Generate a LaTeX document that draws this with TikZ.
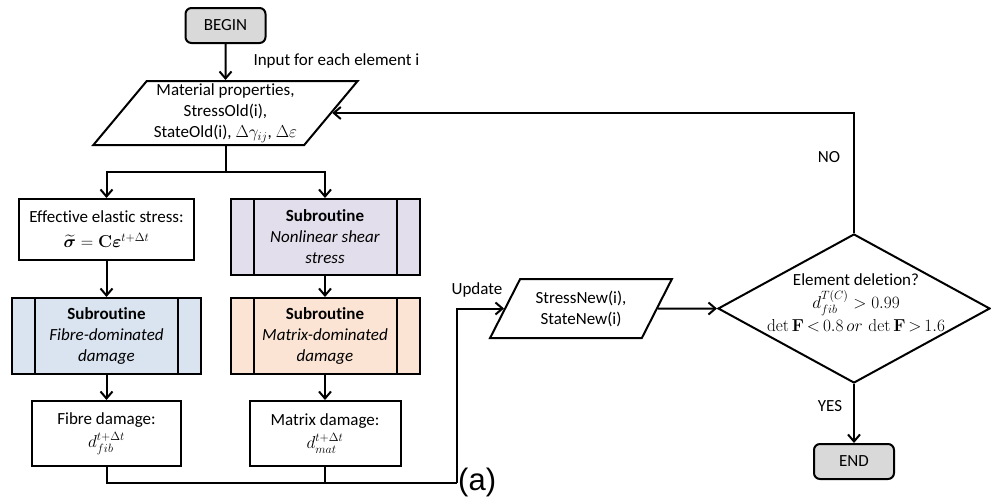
\documentclass[tikz,border=0pt]{standalone}
\usepackage{amsmath}
\usepackage{bm}
\usepackage[no-math]{fontspec}
\setmainfont{Carlito}[Ligatures=NoCommon]
\newfontfamily\labfont{Liberation Sans}
\usetikzlibrary{shapes.geometric,arrows.meta}
\definecolor{grayfill}{HTML}{D9D9D9}
\definecolor{bluefill}{HTML}{DAE3F0}
\definecolor{purplefill}{HTML}{E2DEEC}
\definecolor{peachfill}{HTML}{FBE4D4}
\tikzset{
  every node/.style={font=\fontsize{17}{21}\selectfont, text=black},
  ln/.style={line width=2pt, draw=black},
  arr/.style={ln, -{Straight Barb[length=7pt,width=12pt,line width=2pt]}},
  term/.style={ln, fill=grayfill, rounded corners=6pt, minimum width=80pt, minimum height=35pt, inner sep=0pt},
  proc/.style={ln, fill=white, rectangle, inner sep=0pt, align=center},
  subr/.style={ln, rectangle, inner sep=0pt, align=center, minimum width=189pt, minimum height=76pt,
    path picture={\draw[line width=2pt]
      ([xshift=23pt]path picture bounding box.north west) -- ([xshift=23pt]path picture bounding box.south west)
      ([xshift=-23pt]path picture bounding box.north east) -- ([xshift=-23pt]path picture bounding box.south east);}},
  io/.style={ln, fill=white, trapezium, trapezium stretches=true, inner sep=0pt, align=center},
}
\begin{document}
\begin{tikzpicture}[x=1pt,y=-1pt]
\useasboundingbox (0,0) rectangle (991,498);
% nodes
\node[term] (begin) at (225.5,25.5) {BEGIN};
\node[anchor=west] (inlab) at (250,61) {Input for each element i};
\node[io, trapezium left angle=50.4, trapezium right angle=129.6, minimum width=265pt, minimum height=64pt] (in) at (225.5,113)
  {Material properties,\\StressOld(i),\\StateOld(i), $\Delta\gamma_{ij}$, $\Delta\varepsilon$};
\node[proc, minimum width=175pt, minimum height=61pt] (eff) at (106.5,229.5)
  {Effective elastic stress:\\[4pt]$\widetilde{\bm{\sigma}} = \mathbf{C}\bm{\varepsilon}^{t+\Delta t}$};
\node[subr, fill=purplefill] (nl) at (325,237) {\textbf{Subroutine}\\\textit{Nonlinear shear}\\\textit{stress}};
\node[subr, fill=bluefill] (fsub) at (106.5,336) {\textbf{Subroutine}\\\textit{Fibre-dominated}\\\textit{damage}};
\node[subr, fill=peachfill] (msub) at (325,336) {\textbf{Subroutine}\\\textit{Matrix-dominated}\\\textit{damage}};
\node[proc, minimum width=149pt, minimum height=65pt] (fdam) at (106.5,433.5) {Fibre damage:\\[2pt]$d_{fib}^{t+\Delta t}$};
\node[proc, minimum width=151pt, minimum height=65pt] (mdam) at (325,433.5) {Matrix damage:\\[2pt]$d_{mat}^{t+\Delta t}$};
\node (upd) at (477,290) {Update};
\node[io, trapezium left angle=57.9, trapezium right angle=122.1, minimum width=182pt, minimum height=59pt] (sn) at (581,308.5)
  {StressNew(i),\\StateNew(i)};
\node[ln, diamond, minimum width=272pt, minimum height=149pt, inner sep=0pt] (dec) at (854,308.5) {};
\node[align=center] (dectext) at (856,302.5)
  {Element deletion?\\[2pt]$d^{T(C)}_{fib} > 0.99$\\[2pt]$\thickmuskip=3mu\det\mathbf{F} < 0.8\;or\;\det\mathbf{F} > 1.6$};
\node (no) at (829,157) {NO};
\node (yes) at (830,406) {YES};
\node[term] (end) at (854,461.5) {END};
\node[font=\labfont\fontsize{31}{31}\selectfont, anchor=base west, inner sep=0pt] (alab) at (458,490.6) {(a)};
% coordinates
\coordinate (split) at (225.5,172);
\coordinate (bl) at (457,483);
% connectors
\draw[arr] (begin) -- (in);
\draw[ln] (in) -- (split);
\draw[arr] (split) -| (eff);
\draw[arr] (split) -| (nl);
\draw[arr] (eff) -- (fsub);
\draw[arr] (nl) -- (msub);
\draw[arr] (fsub) -- (fdam);
\draw[arr] (msub) -- (mdam);
\draw[ln] (fdam) |- (bl);
\draw[ln] (mdam) -- (mdam |- bl);
\draw[arr] (bl) |- (sn);
\draw[arr] (sn) -- (dec);
\draw[arr] (dec) -- (end);
\draw[arr] (dec.north) |- (in);
\end{tikzpicture}
\end{document}
